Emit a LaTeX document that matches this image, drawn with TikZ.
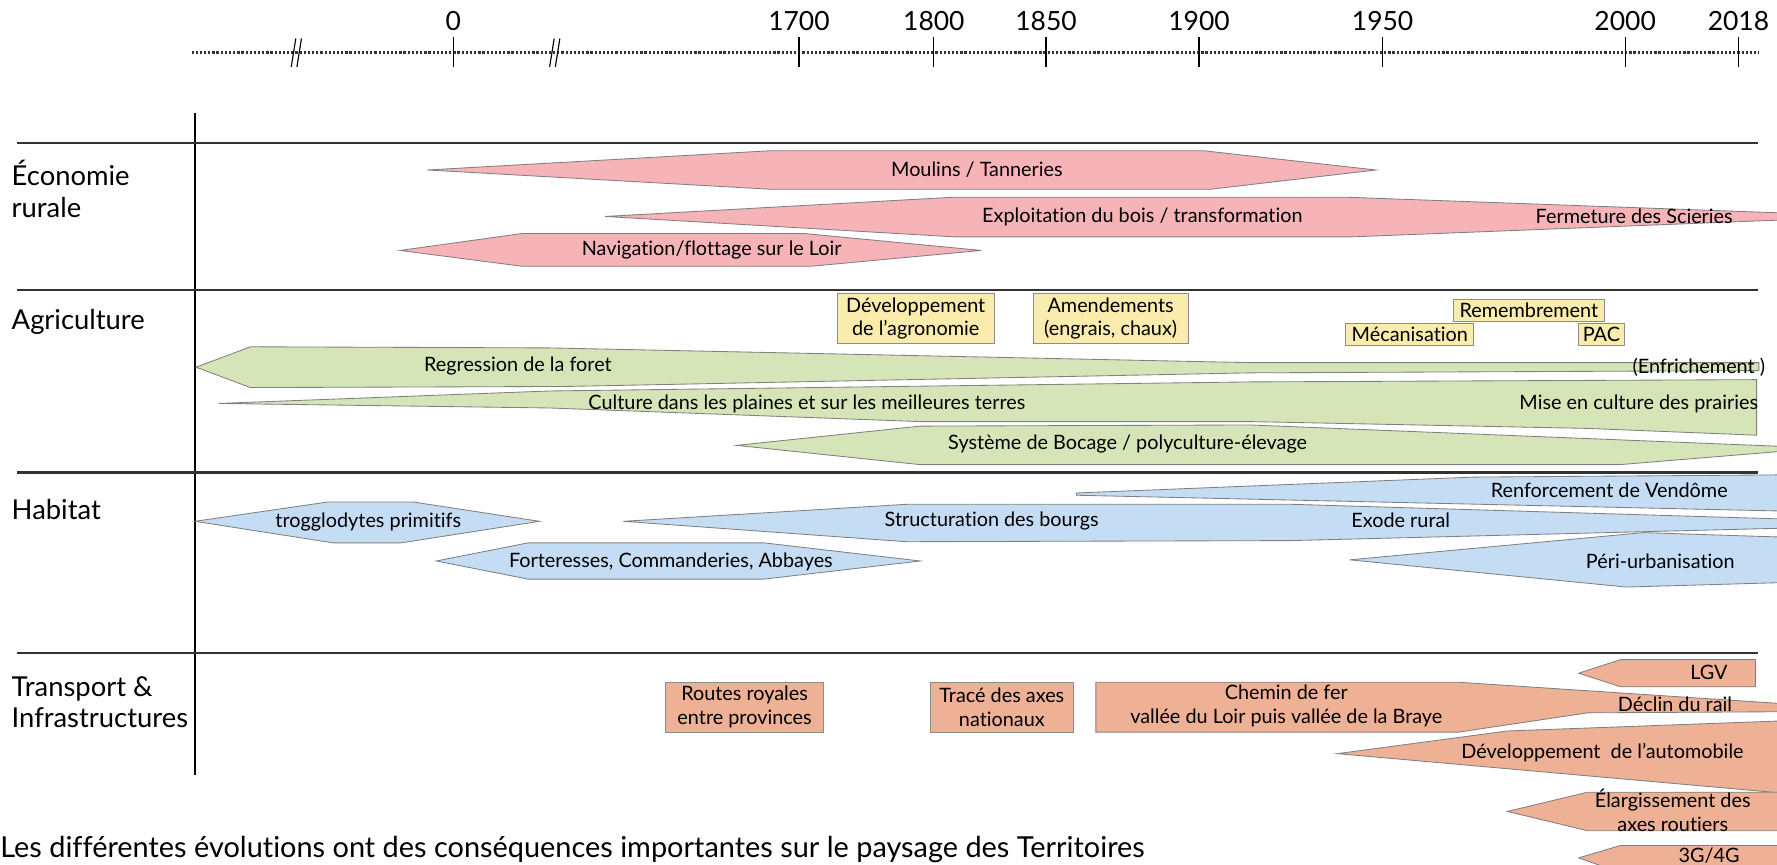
\documentclass[tikz,border=0pt]{standalone}
\usepackage{fontspec}
\setmainfont{Lato}[Ligatures=NoCommon]
\usetikzlibrary{positioning}
\definecolor{ecopink}{RGB}{246,180,185}
\definecolor{agrigreen}{RGB}{214,229,184}
\definecolor{agriyellow}{RGB}{250,236,172}
\definecolor{habblue}{RGB}{197,221,244}
\definecolor{transsalmon}{RGB}{238,177,150}

\begin{document}
\begin{tikzpicture}[x=0.6pt, y=-0.6pt,
    band/.style={draw=black!50, line width=0.45pt},
    ecoband/.style={band, fill=ecopink},
    agriband/.style={band, fill=agrigreen},
    habband/.style={band, fill=habblue},
    transband/.style={band, fill=transsalmon},
    lab/.style={font=\fontsize{10.5}{12.5}\selectfont, inner sep=0pt, align=center},
    tag/.style={lab, draw=black!45, line width=0.4pt, inner sep=1pt},
    sect/.style={font=\fontsize{14.5}{17}\selectfont, anchor=base west, inner sep=0pt},
    year/.style={font=\fontsize{14}{16}\selectfont, anchor=base, inner sep=0pt}]
    \useasboundingbox (0,0) rectangle (1568,763);
    \clip (0,0) rectangle (1568,763);

    % Time axis
    \draw[line width=1.5pt, black!80, dash pattern=on 1.2pt off 1pt] (169,46) -- (1552,46);
    \foreach \x/\yr in {400/0, 705/1700, 824/1800, 923/1850, 1058/1900, 1220/1950, 1434/2000, 1534/2018} {
        \draw[line width=0.6pt] (\x,33) -- (\x,59);
        \node[year] (yr\yr) at (\x,27) {\yr};
    }
    \foreach \x in {262,490} {
        \draw[line width=0.6pt] (\x-5,59) -- (\x-1,34);
        \draw[line width=0.6pt] (\x,59) -- (\x+4,34);
    }

    % Rows
    \draw[line width=0.8pt] (172,100) -- (172,684);
    \foreach \y in {126,256,417,576}
        \draw[line width=1.3pt, black!80] (15,\y) -- (1551,\y);
    \node[sect] (eco) at (10,164) {Économie};
    \node[sect] (eco2) at (10,192) {rurale};
    \node[sect] (agri) at (10,291) {Agriculture};
    \node[sect] (hab) at (10,458) {Habitat};
    \node[sect] (trans) at (10,615) {Transport \&};
    \node[sect] (trans2) at (10,642) {Infrastructures};

    % Economie rurale
    \draw[ecoband] (377,150) -- (680,133) -- (1062,133) -- (1214,150) -- (1068,167) -- (680,167) -- cycle;
    \draw[ecoband] (534,191) -- (842,174) -- (1187,174) -- (1575,188) -- (1575,194) -- (1193,209) -- (842,209) -- cycle;
    \draw[ecoband] (353,221) -- (461,206) -- (709,206) -- (866,221) -- (715,235) -- (461,235) -- cycle;
    \node[lab] (moulins) at (862,150) {Moulins / Tanneries};
    \node[lab] (bois) at (1008,191) {Exploitation du bois / transformation};
    \node[lab] (scieries) at (1442,191) {Fermeture des Scieries};
    \node[lab] (navig) at (628,221) {Navigation/flottage sur le Loir};

    % Agriculture
    \node[tag, fill=agriyellow, minimum width=83.4pt, minimum height=26.4pt] (devagro) at (808,281) {Développement\\de l’agronomie};
    \node[tag, fill=agriyellow, minimum width=82.2pt, minimum height=26.4pt] (amend) at (980,281) {Amendements\\(engrais, chaux)};
    \node[tag, fill=agriyellow, minimum width=80.4pt, minimum height=11.4pt] (remembr) at (1349,274) {Remembrement};
    \node[tag, fill=agriyellow, minimum width=67.8pt, minimum height=11.4pt] (meca) at (1244,295) {Mécanisation};
    \node[tag, fill=agriyellow, minimum width=24pt, minimum height=11.4pt] (pac) at (1413,295) {PAC};
    \draw[agriband] (173,324) -- (221,306) -- (485,307) -- (1103,320) -- (1552,320) -- (1552,327) -- (1103,329) -- (500,341) -- (221,342) -- cycle;
    \draw[agriband] (193,356) -- (485,345) -- (1103,337) -- (1550,335) -- (1550,384) -- (1400,378) -- (1103,372) -- (812,372) -- (485,360) -- cycle;
    \draw[agriband] (650,393) -- (812,376) -- (1103,375) -- (1575,394) -- (1575,398) -- (1429,410) -- (812,410) -- cycle;
    \node[lab] (regress) at (457,323) {Regression de la foret};
    \node[lab] (enfrich) at (1499,324) {(Enfrichement )};
    \node[lab] (culture) at (712,356) {Culture dans les plaines et sur les meilleures terres};
    \node[lab] (prairies) at (1446,356) {Mise en culture des prairies};
    \node[lab] (bocage) at (995,392) {Système de Bocage / polyculture-élevage};

    % Habitat
    \draw[habband] (950,435) -- (1300,421) -- (1575,419) -- (1575,451) -- (950,437) -- cycle;
    \draw[habband] (550,460) -- (800,445) -- (1140,445) -- (1575,458) -- (1575,466) -- (1140,477) -- (800,478) -- cycle;
    \draw[habband] (172,460) -- (289,443) -- (365,443) -- (476,460) -- (354,479) -- (294,479) -- cycle;
    \draw[habband] (385,495) -- (466,479) -- (674,479) -- (812,495) -- (674,511) -- (466,511) -- cycle;
    \draw[habband] (1191,494) -- (1450,470) -- (1575,474) -- (1575,514) -- (1435,518) -- cycle;
    \node[lab] (vendome) at (1420,433) {Renforcement de Vendôme};
    \node[lab] (bourgs) at (875,460) {Structuration des bourgs};
    \node[lab] (exode) at (1236,459) {Exode rural};
    \node[lab] (troglo) at (325,461) {trogglodytes primitifs};
    \node[lab] (forter) at (592,496) {Forteresses, Commanderies, Abbayes};
    \node[lab] (periurb) at (1465,495) {Péri-urbanisation};

    % Transport & Infrastructures
    \node[tag, fill=transsalmon, minimum width=83.4pt, minimum height=26.4pt] (routes) at (657,624) {Routes royales\\entre provinces};
    \node[tag, fill=transsalmon, minimum width=75.6pt, minimum height=26.4pt] (trace) at (884,624) {Tracé des axes\\nationaux};
    \draw[transband] (967,602) -- (1287,602) -- (1575,621) -- (1575,628) -- (1401,629) -- (1287,646) -- (967,646) -- cycle;
    \draw[transband] (1393,594) -- (1430,582) -- (1549,582) -- (1549,606) -- (1430,606) -- cycle;
    \draw[transband] (1180,665) -- (1330,645) -- (1575,636) -- (1575,700) -- cycle;
    \draw[transband] (1330,716) -- (1401,699) -- (1575,699) -- (1575,733) -- (1401,733) -- cycle;
    \draw[transband] (1393,757) -- (1430,746) -- (1575,746) -- (1575,770) -- (1430,770) -- cycle;
    \node[lab] (chemin) at (1135,623) {Chemin de fer\\vallée du Loir puis vallée de la Braye};
    \node[lab] (declin) at (1478,621) {Déclin du rail};
    \node[lab] (lgv) at (1508,593) {LGV};
    \node[lab] (auto) at (1414,664) {Développement~~de l’automobile};
    \node[lab] (elarg) at (1476,715) {Élargissement des\\axes routiers};
    \node[lab] (reseau) at (1508,755) {3G/4G};

    \node[sect, font=\fontsize{15.3}{18}\selectfont] (caption) at (0,757) {Les différentes évolutions ont des conséquences importantes sur le paysage des Territoires};
\end{tikzpicture}
\end{document}
